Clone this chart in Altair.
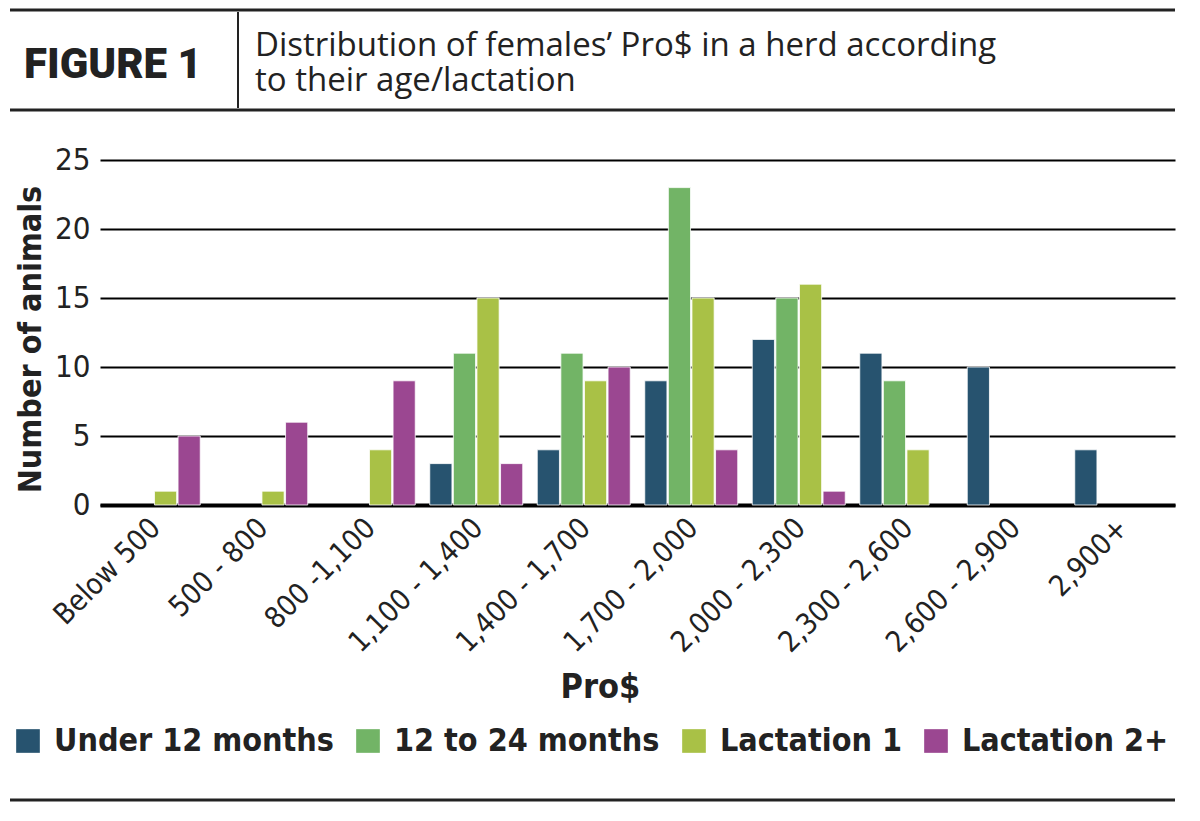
import altair as alt
import pandas as pd

categories = ["Below 500", "500 - 800", "800 -1,100", "1,100 - 1,400", "1,400 - 1,700",
              "1,700 - 2,000", "2,000 - 2,300", "2,300 - 2,600", "2,600 - 2,900", "2,900+"]
series = ["Under 12 months", "12 to 24 months", "Lactation 1", "Lactation 2+"]
under_12 = [0, 0, 0, 3, 4, 9, 12, 11, 10, 4]
m12_24 = [0, 0, 0, 11, 11, 23, 15, 9, 0, 0]
lact_1 = [1, 1, 4, 15, 9, 15, 16, 4, 0, 0]
lact_2 = [5, 6, 9, 3, 10, 4, 1, 0, 0, 0]
colors = ["#27536F", "#72B466", "#A9C146", "#9B4791"]
title_lines = ["Distribution of females\u2019 Pro$ in a herd according", "to their age/lactation"]

rows = []
for s, vals in zip(series, [under_12, m12_24, lact_1, lact_2]):
    for c, v in zip(categories, vals):
        rows.append({"range": c, "group": s, "count": v})
df = pd.DataFrame(rows)

COND = "DejaVu Sans Condensed, Liberation Sans Narrow, Liberation Sans, sans-serif"
HEAD = "Roboto, Inter, Lato, sans-serif"
TITLE = "Open Sans, Roboto, sans-serif"

bars = alt.Chart(df).transform_filter(alt.datum["count"] > 0).mark_bar(
    stroke="white", strokeWidth=0.8).encode(
    x=alt.X("range:N", sort=categories,
            scale=alt.Scale(domain=categories, paddingInner=0.135, paddingOuter=0.0675),
            axis=alt.Axis(title="Pro$", labelAngle=-45, labelFontSize=29, labelFont=COND,
                          labelColor="#222", labelPadding=8, labelOffset=-8, ticks=False,
                          domainColor="black", domainWidth=4,
                          titleFont=COND, titleFontSize=34, titleFontWeight="bold",
                          titleColor="#222", titleY=165, titleX=500)),
    xOffset=alt.XOffset("group:N", sort=series,
                        scale=alt.Scale(domain=series, paddingInner=0.06)),
    y=alt.Y("count:Q", scale=alt.Scale(domain=[0, 25]),
            axis=alt.Axis(title="Number of animals", values=[0, 5, 10, 15, 20, 25],
                          labelFontSize=31, labelFont=COND, labelColor="#222", labelPadding=10,
                          ticks=False, domain=False, gridColor="black", gridWidth=2,
                          titleFont=COND, titleFontSize=32, titleFontWeight="bold",
                          titleColor="#222", titleX=-53, titleY=179)),
    color=alt.Color("group:N", sort=series,
                    scale=alt.Scale(domain=series, range=colors),
                    legend=alt.Legend(title=None, orient="none", direction="horizontal",
                                      columns=4, legendX=-88, legendY=565,
                                      symbolType="square", symbolSize=560,
                                      symbolStrokeWidth=0, symbolOpacity=1,
                                      labelFont=COND, labelFontSize=32, labelFontWeight="bold",
                                      labelColor="#222", labelOffset=10, columnPadding=18,
                                      labelLimit=400)),
)

one = alt.InlineData(values=[{"k": 1}])

def hline(y, w=3):
    return alt.Chart(one).mark_rule(color="#222", strokeWidth=w).encode(
        x=alt.value(-90), x2=alt.value(1075), y=alt.value(y))

vline = alt.Chart(one).mark_rule(color="#222", strokeWidth=2).encode(
    x=alt.value(138), y=alt.value(-148), y2=alt.value(-52))

fig = alt.Chart(one).mark_text(font=HEAD, fontSize=42, fontWeight=900, color="#222",
                               align="left", baseline="alphabetic").encode(
    x=alt.value(-76), y=alt.value(-82), text=alt.value("FIGURE 1"))

ttl = alt.Chart(one).mark_text(font=TITLE, fontSize=33, color="#222", lineHeight=35,
                               align="left", baseline="alphabetic").encode(
    x=alt.value(155), y=alt.value(-104), text=alt.value(title_lines))

chart = alt.layer(bars, hline(-150), hline(-50), vline, fig, ttl, hline(640)).properties(
    width=1075, height=345,
    autosize=alt.AutoSizeParams(type="none"),
    padding={"left": 100, "top": 160, "right": 25, "bottom": 316},
    background="white",
).configure_view(stroke=None)

chart.save("out.html", embed_options={"renderer": "svg", "actions": False})
